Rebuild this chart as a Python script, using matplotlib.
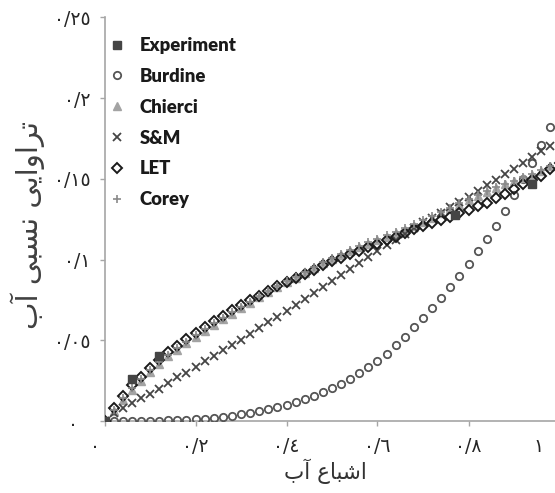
import matplotlib
matplotlib.use("Agg")
import matplotlib.pyplot as plt
from matplotlib.transforms import ScaledTranslation, blended_transform_factory

# ---------------- data ----------------
sw = [0.00, 0.02, 0.04, 0.06, 0.08, 0.10, 0.12, 0.14, 0.16, 0.18,
      0.20, 0.22, 0.24, 0.26, 0.28, 0.30, 0.32, 0.34, 0.36, 0.38,
      0.40, 0.42, 0.44, 0.46, 0.48, 0.50, 0.52, 0.54, 0.56, 0.58,
      0.60, 0.62, 0.64, 0.66, 0.68, 0.70, 0.72, 0.74, 0.76, 0.78,
      0.80, 0.82, 0.84, 0.86, 0.88, 0.90, 0.92, 0.94, 0.96, 0.98, 1.00]

burdine = [0.0000, 0.0000, 0.0000, 0.0001, 0.0001, 0.0002, 0.0003, 0.0004, 0.0006, 0.0008,
           0.0010, 0.0013, 0.0019, 0.0026, 0.0033, 0.0042, 0.0051, 0.0061, 0.0073, 0.0086,
           0.0100, 0.0117, 0.0135, 0.0155, 0.0178, 0.0203, 0.0230, 0.0261, 0.0295, 0.0332,
           0.0372, 0.0418, 0.0468, 0.0522, 0.0580, 0.0640, 0.0700, 0.0760, 0.0830, 0.0900,
           0.0970, 0.1050, 0.1130, 0.1210, 0.1300, 0.1400, 0.1500, 0.1600, 0.1710, 0.1820, 0.1940]

chierci = [0.000, 0.006, 0.013, 0.0195, 0.025, 0.0305, 0.0355, 0.040, 0.044, 0.048,
           0.052, 0.0558, 0.0595, 0.063, 0.0665, 0.070, 0.0733, 0.0765, 0.0797, 0.0828,
           0.0858, 0.0888, 0.0918, 0.0948, 0.0978, 0.1005, 0.1030, 0.1053, 0.1075, 0.1097,
           0.1118, 0.1140, 0.1162, 0.1185, 0.1210, 0.1235, 0.1260, 0.1288, 0.1315, 0.1340,
           0.1367, 0.1393, 0.1420, 0.1442, 0.1465, 0.1485, 0.1505, 0.1525, 0.1550, 0.1580, 0.1605]

sm = [0.000, 0.005, 0.008, 0.011, 0.014, 0.017, 0.020, 0.0235, 0.027, 0.030,
      0.0335, 0.037, 0.0405, 0.044, 0.047, 0.050, 0.0537, 0.0573, 0.061, 0.0647,
      0.0683, 0.072, 0.0757, 0.0793, 0.083, 0.0865, 0.0903, 0.094, 0.0977, 0.1014,
      0.1050, 0.1087, 0.1123, 0.1160, 0.1195, 0.1230, 0.1260, 0.1290, 0.1325, 0.1355,
      0.1390, 0.1425, 0.1460, 0.1495, 0.1530, 0.1560, 0.1600, 0.1635, 0.1670, 0.1705, 0.1740]

let = [0.000, 0.008, 0.0155, 0.022, 0.0275, 0.033, 0.038, 0.0425, 0.0465, 0.0505,
       0.0543, 0.058, 0.0617, 0.065, 0.0685, 0.0717, 0.0748, 0.0777, 0.0805, 0.0833,
       0.0860, 0.0886, 0.0912, 0.0938, 0.0964, 0.0990, 0.1012, 0.1035, 0.1055, 0.1075,
       0.1097, 0.1118, 0.1142, 0.1163, 0.1190, 0.1205, 0.1228, 0.1247, 0.1265, 0.1286,
       0.1307, 0.1330, 0.1352, 0.1380, 0.1408, 0.1437, 0.1465, 0.1490, 0.1520, 0.1558, 0.1595]

corey = [0.000, 0.007, 0.014, 0.0205, 0.026, 0.0315, 0.0365, 0.041, 0.045, 0.049,
         0.053, 0.0568, 0.0605, 0.064, 0.0675, 0.0708, 0.074, 0.0772, 0.0803, 0.0834,
         0.0864, 0.0894, 0.0924, 0.0954, 0.0983, 0.1010, 0.1036, 0.1060, 0.1083, 0.1106,
         0.1128, 0.1150, 0.1173, 0.1197, 0.1222, 0.1246, 0.1270, 0.1296, 0.1322, 0.1347,
         0.1373, 0.1398, 0.1424, 0.1446, 0.1468, 0.1488, 0.1508, 0.1528, 0.1553, 0.1582, 0.1608]

exp_sw = [0.00, 0.06, 0.12, 0.77, 0.94]
exp_kr = [0.000, 0.0258, 0.0400, 0.1278, 0.1465]

series_names = ["Experiment", "Burdine", "Chierci", "S&M", "LET", "Corey"]

x_ticks = [0.0, 0.2, 0.4, 0.6, 0.8]
x_ticklabels = ["\u0660", "\u0660/\u0662", "\u0660/\u0664", "\u0660/\u0666", "\u0660/\u0668"]
x_last_label = "\u0661"
y_ticks = [0.0, 0.05, 0.10, 0.15, 0.20, 0.25]
y_ticklabels = ["\u0660", "\u0660/\u0660\u0665", "\u0660/\u0661", "\u0660/\u0661\u0665",
                "\u0660/\u0662", "\u0660/\u0662\u0665"]

# Arabic text pre-shaped (presentation forms, visual order)
xlabel_text = "\uFE8F\uFE81 \uFEC9\uFE8E\uFE92\uFEB7\uFE8D"            # اشباع آب
ylabel_text = ("\uFE8F\uFE81 \uFEF0\uFE92\uFEB4\uFEE7 "
               "\uFEF0\uFEF3\uFE8D\uFEED\uFE8D\uFEAE\uFE97")            # تراوایی نسبی آب

# ---------------- figure ----------------
W, H = 555, 493
fig = plt.figure(figsize=(W / 100, H / 100), dpi=100)
ax_left, ax_right, ax_top, ax_bot = 104.5, 555, 17.3, 421
ax = fig.add_axes([ax_left / W, (H - ax_bot) / H, (ax_right - ax_left) / W, (ax_bot - ax_top) / H])

ax.plot(sw, burdine, linestyle="none", marker="o", ms=5.3, mfc="none", mec="#555555", mew=1.3,
        label=series_names[1], zorder=3)
ax.plot(sw, chierci, linestyle="none", marker="^", ms=6.2, color="#a3a3a3", mec="#a3a3a3",
        label=series_names[2], zorder=3)
ax.plot(sw, sm, linestyle="none", marker="x", ms=5.3, color="#454545", mew=1.3,
        label=series_names[3], zorder=3)
ax.plot(sw, let, linestyle="none", marker="D", ms=4.6, mfc="none", mec="#1a1a1a", mew=1.4,
        label=series_names[4], zorder=4)
ax.plot(sw, corey, linestyle="none", marker="+", ms=6.2, color="#8a8a8a", mew=1.2,
        label=series_names[5], zorder=5)
ax.plot(exp_sw, exp_kr, linestyle="none", marker="s", ms=5.5, color="#454545",
        label=series_names[0], zorder=6)

ax.set_xlim(0, (ax_right - ax_left) / 455.0)
ax.set_ylim(0, 0.25)

for s in ["top", "right"]:
    ax.spines[s].set_visible(False)
for s in ["left", "bottom"]:
    ax.spines[s].set_color("#a6a6a6")
    ax.spines[s].set_linewidth(1.2)

fs_tick = 13.5
ax.set_xticks(x_ticks)
ax.set_xticklabels([""] + x_ticklabels[1:])
ax.set_yticks(y_ticks)
ax.set_yticklabels([""] + y_ticklabels[1:])
ax.tick_params(axis="both", direction="out", length=3.8, width=1.0, color="#a6a6a6",
               labelsize=fs_tick, labelcolor="#262626")
ax.tick_params(axis="x", pad=8)
ax.tick_params(axis="y", pad=6)
for lab in ax.get_xticklabels() + ax.get_yticklabels():
    lab.set_family("DejaVu Sans")

# zero labels and the "1" label (positioned like the reference)
xt = blended_transform_factory(ax.transData, ax.transAxes)
ax.text(x_ticks[0], 0, x_ticklabels[0], transform=xt + ScaledTranslation(-10 / 100, -26 / 100, fig.dpi_scale_trans),
        ha="center", va="center", fontsize=fs_tick, color="#262626", family="DejaVu Sans")
ax.text(1.0, 0, x_last_label, transform=xt + ScaledTranslation(-21 / 100, -26 / 100, fig.dpi_scale_trans),
        ha="center", va="center", fontsize=fs_tick, color="#262626", family="DejaVu Sans", clip_on=False)
yt = blended_transform_factory(ax.transAxes, ax.transData)
ax.text(0, y_ticks[0], y_ticklabels[0], transform=yt + ScaledTranslation(-31 / 100, -3 / 100, fig.dpi_scale_trans),
        ha="center", va="center", fontsize=fs_tick, color="#262626", family="DejaVu Sans")

# axis titles
fig.text(325 / W, 1 - 471 / H, xlabel_text, ha="center", va="center", fontsize=15.5,
         family="DejaVu Sans", color="#333333")
fig.text(28 / W, 1 - 225 / H, ylabel_text, ha="center", va="center", fontsize=21,
         rotation=90, family="DejaVu Sans", color="#404040")

# legend
handles, labels = ax.get_legend_handles_labels()
order = [labels.index(n) for n in series_names]
leg = ax.legend([handles[i] for i in order], [labels[i] for i in order],
                loc="upper left", bbox_to_anchor=(110 / W, 1 - 37 / H), bbox_transform=fig.transFigure,
                frameon=False, borderpad=0, handlelength=0.8, handletextpad=0.8,
                labelspacing=0.75, borderaxespad=0, numpoints=1,
                prop={"family": "Lato", "weight": "heavy", "size": 13.3})
for t in leg.get_texts():
    t.set_color("#1a1a1a")

fig.savefig("out.png", dpi=100)
